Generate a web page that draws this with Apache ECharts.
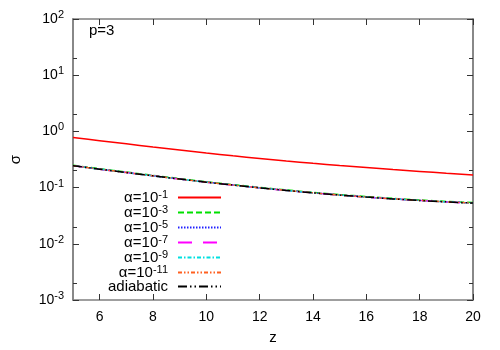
<!DOCTYPE html>
<html>
<head>
<meta charset="utf-8">
<script src="https://cdn.jsdelivr.net/npm/echarts@6/dist/echarts.min.js"></script>
<style>
    html, body { margin: 0; padding: 0; background: #fff; }
    #main { width: 500px; height: 350px; }
</style>
</head>
<body>
<div id="main"></div>
<script>
// z 轴取值
var zValues = [5, 6, 7, 8, 9, 10, 11, 12, 13, 14, 15, 16, 17, 18, 19, 20];
// alpha = 1e-1
var sigmaA1 = [0.780, 0.682, 0.600, 0.528, 0.467, 0.411, 0.367, 0.330, 0.297, 0.270, 0.247, 0.227, 0.209, 0.194, 0.180, 0.168];
// alpha = 1e-3 (略高一点)
var sigmaA3 = [0.250, 0.217, 0.189, 0.165, 0.1447, 0.1275, 0.1131, 0.1011, 0.0909, 0.0823, 0.0751, 0.0692, 0.0643, 0.0602, 0.0568, 0.0541];
// 其余几条几乎重合
var sigmaA5 = [0.2455, 0.2128, 0.1854, 0.1618, 0.1419, 0.1250, 0.1109, 0.0991, 0.0891, 0.0807, 0.0736, 0.0678, 0.0630, 0.0590, 0.0557, 0.0530];
var sigmaA7 = [0.2455, 0.2128, 0.1854, 0.1618, 0.1419, 0.1250, 0.1109, 0.0991, 0.0891, 0.0807, 0.0736, 0.0678, 0.0630, 0.0590, 0.0557, 0.0530];
var sigmaA9 = [0.2455, 0.2128, 0.1854, 0.1618, 0.1419, 0.1250, 0.1109, 0.0991, 0.0891, 0.0807, 0.0736, 0.0678, 0.0630, 0.0590, 0.0557, 0.0530];
var sigmaA11 = [0.2455, 0.2128, 0.1854, 0.1618, 0.1419, 0.1250, 0.1109, 0.0991, 0.0891, 0.0807, 0.0736, 0.0678, 0.0630, 0.0590, 0.0557, 0.0530];
var sigmaAdia = [0.2455, 0.2128, 0.1854, 0.1618, 0.1419, 0.1250, 0.1109, 0.0991, 0.0891, 0.0807, 0.0736, 0.0678, 0.0630, 0.0590, 0.0557, 0.0530];

var xTicks = [6, 8, 10, 12, 14, 16, 18, 20];
var yMinorTicks = [0.002, 0.02, 0.2, 2, 20];
var seriesNames = ['a1', 'a3', 'a5', 'a7', 'a9', 'a11', 'adiabatic'];
var legendExp = ['-1', '-3', '-5', '-7', '-9', '-11', ''];

var font = '"Liberation Sans", Arial, sans-serif';
var axisColor = '#808080';
var yMin = 0.001, yMax = 100;

function pairs(ys) {
    var out = [];
    for (var i = 0; i < zValues.length; i++) {
        out.push([zValues[i], ys[i]]);
    }
    return out;
}

function makeLine(name, ys, color, dash) {
    return {
        name: name,
        type: 'line',
        xAxisIndex: 0,
        yAxisIndex: 0,
        symbol: 'none',
        smooth: 0.3,
        animation: false,
        lineStyle: { color: color, width: 1.5, type: dash },
        itemStyle: { color: color },
        data: pairs(ys)
    };
}

// 次刻度: 用一条线性轴(指数空间)画出 2x 位置的小刻度
function minorAxis(pos) {
    var vals = yMinorTicks.map(Math.log10);
    return {
        type: 'value',
        min: Math.log10(yMin),
        max: Math.log10(yMax),
        position: pos,
        axisLine: { show: true, onZero: false, lineStyle: { color: axisColor, width: 1.5 } },
        axisTick: {
            show: true, inside: true, length: 4,
            customValues: vals,
            lineStyle: { color: '#333', width: 1 }
        },
        axisLabel: { show: false, customValues: vals },
        splitLine: { show: false }
    };
}

var myChart = echarts.init(document.getElementById('main'));

var tickStyle = { show: true, inside: true, length: 6, lineStyle: { color: '#333', width: 1 } };

var option = {
    backgroundColor: '#fff',
    animation: false,
    textStyle: { fontFamily: font },
    title: {
        text: 'p=3',
        left: 84,
        top: 18,
        textStyle: { fontFamily: font, fontSize: 15, fontWeight: 'normal', color: '#000' }
    },
    grid: { left: 72, right: 27, top: 19, bottom: 48 },
    legend: {
        orient: 'vertical',
        right: 273,
        top: 184,
        align: 'right',
        itemWidth: 43,
        itemHeight: 14,
        itemGap: -2,
        data: seriesNames,
        itemStyle: { color: 'rgba(0,0,0,0)', borderWidth: 0, opacity: 0 },
        formatter: function (name) {
            var i = seriesNames.indexOf(name);
            if (name === 'adiabatic') return '{b|adiabatic}';
            return '{b|α=10}{s|' + legendExp[i] + '}';
        },
        textStyle: {
            color: '#000',
            padding: [0, 5, 0, 0],
            rich: {
                b: { fontFamily: font, fontSize: 15, color: '#000', lineHeight: 16 },
                s: { fontFamily: font, fontSize: 11, color: '#000', lineHeight: 12, padding: [0, 0, 6, 0] }
            }
        }
    },
    xAxis: [
        {
            type: 'value',
            min: 5,
            max: 20,
            name: 'z',
            nameLocation: 'middle',
            nameGap: 30,
            nameTextStyle: { fontFamily: font, fontSize: 15, color: '#000' },
            axisLine: { show: true, onZero: false, lineStyle: { color: axisColor, width: 1.5 } },
            axisTick: { show: true, inside: true, length: 6, customValues: xTicks, lineStyle: { color: '#333' } },
            axisLabel: { customValues: xTicks, fontFamily: font, fontSize: 14, color: '#000', margin: 10 },
            splitLine: { show: false }
        },
        {
            type: 'value',
            position: 'top',
            min: 5,
            max: 20,
            axisLine: { show: true, onZero: false, lineStyle: { color: axisColor, width: 1.5 } },
            axisTick: { show: true, inside: true, length: 6, customValues: xTicks, lineStyle: { color: '#333' } },
            axisLabel: { show: false },
            splitLine: { show: false }
        }
    ],
    yAxis: [
        {
            type: 'log',
            logBase: 10,
            min: yMin,
            max: yMax,
            name: 'σ',
            nameLocation: 'middle',
            nameGap: 50,
            nameRotate: 90,
            nameTextStyle: { fontFamily: font, fontSize: 15, color: '#000' },
            axisLine: { show: true, onZero: false, lineStyle: { color: axisColor, width: 1.5 } },
            axisTick: tickStyle,
            axisLabel: {
                fontFamily: font,
                margin: 9,
                formatter: function (v) {
                    var e = Math.round(Math.log10(v));
                    return '{b|10}{s|' + e + '}';
                },
                rich: {
                    b: { fontFamily: font, fontSize: 14, color: '#000', lineHeight: 16 },
                    s: { fontFamily: font, fontSize: 11, color: '#000', lineHeight: 12, padding: [0, 0, 8, 0] }
                }
            },
            splitLine: { show: false }
        },
        {
            type: 'log',
            logBase: 10,
            min: yMin,
            max: yMax,
            position: 'right',
            axisLine: { show: true, onZero: false, lineStyle: { color: axisColor, width: 1.5 } },
            axisTick: tickStyle,
            axisLabel: { show: false },
            splitLine: { show: false }
        },
        minorAxis('left'),
        minorAxis('right')
    ],
    series: [
        makeLine('a1', sigmaA1, '#ff0000', 'solid'),
        makeLine('a3', sigmaA3, '#00e000', [6, 3]),
        makeLine('a5', sigmaA5, '#2020ff', [1.5, 1.5]),
        makeLine('a7', sigmaA7, '#ff00ff', [14, 11]),
        makeLine('a9', sigmaA9, '#00e0e0', [4, 2, 1.5, 2]),
        makeLine('a11', sigmaA11, '#ff6020', [4, 2, 1.5, 2, 1.5, 2]),
        makeLine('adiabatic', sigmaAdia, '#000000', [9, 3, 1.5, 3, 1.5, 3])
    ]
};

myChart.setOption(option);
</script>
</body>
</html>
